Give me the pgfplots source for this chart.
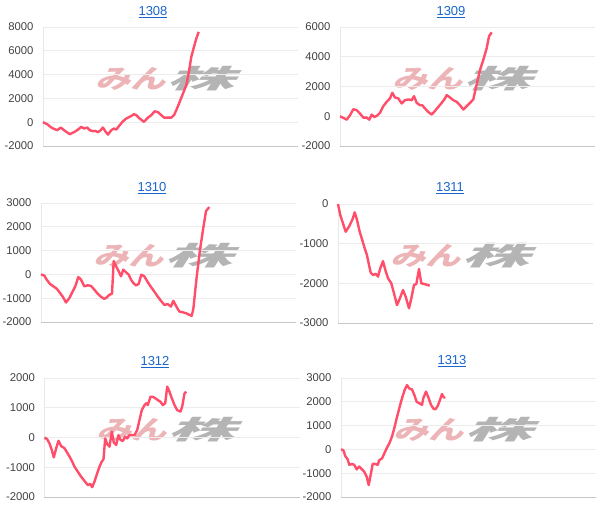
\documentclass[border=0pt]{standalone}
\usepackage{pgfplots}
\pgfplotsset{compat=1.18}
\usepackage{fontspec}
\setmainfont{Liberation Sans}
\newfontfamily\cjk{Noto Sans CJK JP}
\definecolor{ln}{RGB}{255,77,106}
\definecolor{ttl}{RGB}{26,102,204}
\definecolor{wmp}{RGB}{236,180,182}
\definecolor{wmg}{RGB}{180,180,180}
\pgfplotsset{panel/.style={
  scale only axis, width=255pt, height=119pt, xmin=0, xmax=255,
  axis x line*=bottom, axis y line*=left, axis line style={-},
  x axis line style={draw=gray!45}, y axis line style={draw=gray!18},
  xtick=\empty, ymajorgrids, major grid style={draw=gray!15, line width=0.8pt},
  tick style={draw=none},
  yticklabel style={font=\fontsize{11.3}{13}\selectfont, text=black!74, xshift=-6pt},
  /pgf/number format/1000 sep={}, /pgf/number format/assume math mode=true,
  extra y ticks={0}, extra y tick labels={},
  extra y tick style={grid style={draw=gray!40, line width=0.8pt}},
  clip=false}}
\newcommand{\wm}[2]{%
  \node[text=wmp, font=\cjk\bfseries\fontsize{26}{26}\selectfont, xscale=1.35, xslant=0.25, inner sep=0pt] at (#1pt+91pt,#2pt) {みん};
  \node[text=wmg, font=\cjk\bfseries\fontsize{26}{26}\selectfont, xscale=2.6, xslant=0.25, inner sep=0pt] at (#1pt+164pt,#2pt) {株};}
\newcommand{\ttl}[3]{\node[text=ttl, font=\fontsize{13}{15}\selectfont] at (#1pt,#2pt) {\underline{#3}};}
\begin{document}
\begin{tikzpicture}
\useasboundingbox (0,0) rectangle (606pt,517pt);
\wm{43}{438}
\wm{340}{438}
\wm{41}{261}
\wm{338}{261}
\wm{44}{87}
\wm{341}{87}
\ttl{153}{505}{1308}
\ttl{451}{505}{1309}
\ttl{152}{329}{1310}
\ttl{450}{329}{1311}
\ttl{155}{155}{1312}
\ttl{452}{156}{1313}
% 1308
\begin{axis}[panel, at={(43pt,371pt)}, anchor=south west, ymin=-2000, ymax=8000, ytick={-2000,0,2000,4000,6000,8000}]
\addplot[ln, line width=2.4pt, line join=round] coordinates {(0,0)(4.3,-170)(8.3,-450)(11.7,-590)(14.3,-670)(17.7,-450)(21,-670)(26.7,-1010)(31.7,-810)(35,-620)(38.3,-390)(41,-530)(44.3,-450)(46.7,-670)(50,-760)(52.3,-730)(55,-840)(57.7,-670)(60,-450)(62.7,-810)(65,-1040)(68.3,-670)(71,-530)(73.3,-620)(76.7,-250)(80,80)(83.3,310)(87.7,500)(91,670)(93.3,590)(96.7,310)(101,30)(105,390)(108.3,590)(111.7,920)(115,840)(118.3,590)(121,390)(125,390)(128.3,390)(131,590)(133.3,1010)(136.7,1710)(140,2410)(143.3,3110)(145,3810)(146.7,4650)(148.3,5490)(151,6330)(153.3,7030)(155.7,7590)};
\end{axis}
% 1309
\begin{axis}[panel, at={(340pt,371pt)}, anchor=south west, ymin=-2000, ymax=6000, ytick={-2000,0,2000,4000,6000}]
\addplot[ln, line width=2.4pt, line join=round] coordinates {(0,0)(3.3,-110)(6.7,-230)(10,70)(13.3,470)(16.7,410)(20,180)(23.3,-90)(26.7,-90)(29.3,-230)(31.7,110)(34.3,-50)(36.7,20)(40,230)(43.3,680)(46.7,970)(50,1200)(52.3,1580)(55,1260)(58.3,1200)(61.7,860)(65,1080)(68.3,1130)(71.7,1080)(74,1350)(76.7,900)(80,740)(82.3,740)(85,520)(88.3,290)(91.7,110)(95,360)(98.3,630)(101.7,900)(104.3,1130)(106.7,1420)(110,1260)(113.3,1080)(116.7,970)(120,740)(123.3,450)(126.7,680)(130,900)(133.3,1130)(135,1650)(137.7,2440)(140,3110)(143.3,3790)(146.7,4580)(149,5370)(151.7,5640)};
\end{axis}
% 1310
\begin{axis}[panel, at={(41pt,195pt)}, anchor=south west, ymin=-2000, ymax=3000, ytick={-2000,-1000,0,1000,2000,3000}]
\addplot[ln, line width=2.4pt, line join=round] coordinates {(0,0)(3.3,-50)(5.7,-220)(9,-400)(12.3,-500)(15.7,-600)(18.3,-740)(21.7,-930)(25,-1180)(28.3,-1000)(31.7,-720)(34.3,-500)(37.3,-110)(40,-220)(43.3,-500)(46.7,-460)(50,-480)(53.3,-640)(56.7,-810)(60,-940)(63.3,-1030)(65.7,-970)(68.3,-860)(71,-810)(72.7,560)(75,350)(77.7,130)(80,-80)(82.3,200)(85,90)(87.7,-10)(90,-220)(92.3,-360)(95,-460)(97.7,-400)(100.3,-10)(103.3,-80)(106.7,-320)(110,-530)(113.3,-720)(116.7,-930)(120,-1110)(123.3,-1280)(126.7,-1250)(130,-1350)(132.3,-1110)(135,-1320)(138.3,-1560)(141.7,-1590)(145,-1630)(148.3,-1700)(150.7,-1740)(152.3,-1460)(155.7,-100)(159,1040)(162.3,1950)(165,2660)(168.3,2830)};
\end{axis}
% 1311
\begin{axis}[panel, at={(338pt,194pt)}, anchor=south west, ymin=-3000, ymax=0, ytick={-3000,-2000,-1000,0}]
\addplot[ln, line width=2.4pt, line join=round] coordinates {(0,0)(2.3,-280)(5,-490)(7.7,-700)(11,-570)(14.3,-400)(16.7,-210)(19,-400)(21.7,-700)(24.3,-910)(26.7,-1120)(29,-1290)(31,-1540)(32.7,-1730)(35,-1790)(37.7,-1760)(40,-1830)(42.3,-1620)(45,-1440)(47.3,-1660)(50,-1870)(53.3,-2000)(56,-2250)(59,-2550)(61.7,-2390)(65,-2170)(67.7,-2340)(71,-2630)(73.3,-2380)(76,-2040)(78.3,-2020)(81,-1640)(83.3,-2000)(86.7,-2020)(91.7,-2060)};
\end{axis}
% 1312
\begin{axis}[panel, at={(44.5pt,20pt)}, anchor=south west, ymin=-2000, ymax=2000, ytick={-2000,-1000,0,1000,2000}]
\addplot[ln, line width=2.4pt, line join=round] coordinates {(0,0)(2.7,-60)(5,-200)(7.3,-420)(9.3,-670)(11.7,-360)(14,-110)(16.7,-290)(20,-360)(22.7,-510)(25,-640)(27.7,-810)(30,-980)(33.3,-1150)(36.7,-1320)(40,-1460)(43.3,-1600)(45.7,-1560)(47.7,-1670)(50,-1480)(52.7,-1200)(55,-980)(57.3,-810)(59,-730)(60.7,-30)(62.7,-220)(65,-310)(67.3,200)(69.3,-170)(71.7,-250)(74,80)(76,-80)(78.3,-120)(80.7,30)(82.7,-30)(85,80)(87.3,80)(90,80)(92.7,250)(95,590)(97.3,920)(100,1090)(101.7,1150)(103.3,1090)(106,1370)(108.3,1370)(110.7,1320)(113.3,1260)(116,1200)(118.3,1090)(120.7,1150)(122.7,1710)(125,1540)(127.3,1320)(130,1090)(132.7,920)(136,870)(137.7,1040)(140,1480)(141.7,1540)};
\end{axis}
% 1313
\begin{axis}[panel, at={(341pt,20pt)}, anchor=south west, ymin=-2000, ymax=3000, ytick={-2000,-1000,0,1000,2000,3000}]
\addplot[ln, line width=2.4pt, line join=round] coordinates {(0,0)(2.3,-30)(4.3,-280)(6.7,-420)(8.3,-650)(11,-610)(13.3,-650)(15.7,-840)(18.3,-720)(21,-840)(23.3,-940)(25.7,-1150)(27.7,-1500)(30,-1000)(31.7,-610)(34.3,-610)(36.7,-650)(38.3,-450)(41,-380)(43.3,-170)(45.7,50)(48.3,250)(51,540)(53.3,890)(55.7,1310)(58.3,1730)(61,2150)(63.7,2500)(66,2700)(68.3,2560)(71,2520)(73.3,2290)(75.7,2000)(78.3,1940)(81,1870)(82.3,2150)(85,2430)(87.7,2150)(90,1870)(92.3,1720)(94.3,1680)(96.7,1820)(99,2080)(101,2330)(102.3,2220)(104,2150)};
\end{axis}
\end{tikzpicture}
\end{document}
